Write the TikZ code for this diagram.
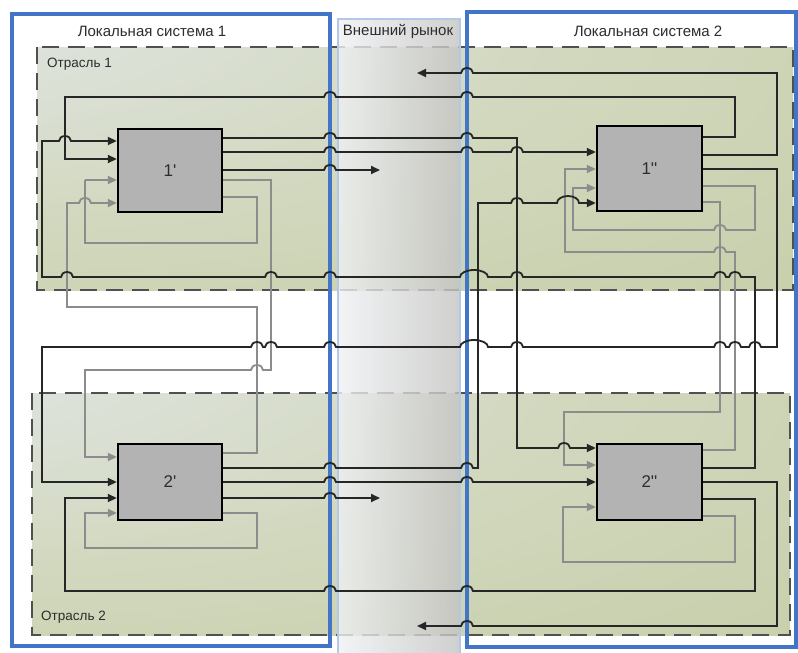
\documentclass[tikz,border=0pt]{standalone}
\usepackage{fontspec}
\setmainfont{Liberation Sans}
\usetikzlibrary{arrows.meta}

\definecolor{lsblue}{RGB}{66,116,200}
\definecolor{mkedge}{RGB}{178,200,232}
\definecolor{indlight}{RGB}{228,233,238}
\definecolor{indmid}{RGB}{210,216,190}
\definecolor{inddark}{RGB}{192,201,158}
\definecolor{mklight}{RGB}{240,241,244}
\definecolor{mkdark}{RGB}{196,196,194}
\definecolor{blockgray}{RGB}{179,179,179}
\definecolor{linegray}{RGB}{140,140,140}
\definecolor{dashgray}{RGB}{80,80,80}
\definecolor{txtgray}{RGB}{45,45,45}

\pgfdeclareradialshading{indshade}{\pgfpoint{-42bp}{40bp}}{%
  color(0bp)=(indlight); color(40bp)=(indmid); color(85bp)=(inddark); color(140bp)=(inddark)}

\newcommand{\jumpR}[2]{-- ({#1-6},#2) arc[start angle=180,end angle=0,x radius=6pt,y radius=5pt]}
\newcommand{\jumpL}[2]{-- ({#1+6},#2) arc[start angle=0,end angle=180,x radius=6pt,y radius=5pt]}
\newcommand{\jumpRw}[3]{-- ({#1-#3},#2) arc[start angle=180,end angle=0,x radius=#3pt,y radius=7pt]}
\newcommand{\jumpLw}[3]{-- ({#1+#3},#2) arc[start angle=0,end angle=180,x radius=#3pt,y radius=7pt]}

\begin{document}
\begin{tikzpicture}[
  x=1pt, y=-1pt,
  blockbox/.style={draw=black, line width=2.4pt, fill=blockgray, inner sep=0pt,
              minimum width=104pt, text=txtgray, font=\fontsize{17}{20}\selectfont},
  industry/.style={draw=dashgray, line width=2.4pt, dash pattern=on 17pt off 9pt,
              shading=indshade},
  market/.style={draw=mkedge, line width=1.8pt, left color=mklight, right color=mkdark,
              fill opacity=0.8},
  system/.style={draw=lsblue, line width=3.2pt},
  systitle/.style={text=txtgray, inner sep=0pt, font=\fontsize{15}{17}\selectfont},
  indtitle/.style={text=txtgray, inner sep=0pt, font=\fontsize{13.5}{15}\selectfont},
  blk/.style={draw=black!85, line width=1.8pt},
  gry/.style={draw=linegray, line width=1.8pt},
  arr/.style={-{Triangle[length=9pt,width=8pt]}}
]
\useasboundingbox (0,0) rectangle (798,653);
\fill[white] (0,0) rectangle (798,653);

\shadedraw[industry] (37,47) rectangle (793,290);
\shadedraw[industry] (32,393) rectangle (790,635);
\shadedraw[market] (338,19) rectangle (460,656);
\draw[system] (12,14) rectangle (330,646);
\draw[system] (467,12) rectangle (796,647);

\node[systitle] (ls1) at (152,31) {Локальная система 1};
\node[systitle] (mkt) at (398,31) {Внешний рынок};
\node[systitle] (ls2) at (648,31) {Локальная система 2};
\node[indtitle, anchor=west] (ind1) at (47,64) {Отрасль 1};
\node[indtitle, anchor=west] (ind2) at (41,617) {Отрасль 2};

\coordinate (mk1) at (380,170);
\coordinate (mk2) at (417,73);
\coordinate (mk3) at (380,498);
\coordinate (mk4) at (417,626);

\node[blockbox, minimum height=83pt] (b1a) at (170,170.5) {1\textquotesingle};
\node[blockbox, minimum height=85pt, minimum width=105pt] (b1b) at (649.5,168.5) {1\textquotesingle\textquotesingle};
\node[blockbox, minimum height=76pt] (b2a) at (170,482) {2\textquotesingle};
\node[blockbox, minimum height=76pt, minimum width=105pt] (b2b) at (649.5,482) {2\textquotesingle\textquotesingle};

\draw[gry] (b1a.east |- 0,197) -- (257,197) -- (257,243) -- (85,243) -- (85,180);
\draw[gry, arr] (85,180) -- (b1a.west |- 0,180);
\draw[gry, arr] (b1a.east |- 0,180) -- (271,180) -- (271,370) \jumpL{257}{370} -- (85,370)
  -- (85,457) -- (b2a.west |- 0,457);
\draw[gry, arr] (b2a.east |- 0,453) -- (257,453) -- (257,307) -- (67,307) -- (67,203)
  \jumpR{85}{203} -- (b1a.west |- 0,203);
\draw[gry, arr] (b2a.east |- 0,513) -- (257,513) -- (257,548) -- (85,548) -- (85,513)
  -- (b2a.west |- 0,513);
\draw[gry, arr] (b1b.east |- 0,186) -- (755,186) -- (755,230) \jumpL{720}{230} -- (573,230)
  -- (573,188) -- (b1b.west |- 0,188);
\draw[gry, arr] (b1b.east |- 0,202) -- (720,202) -- (720,412) -- (564,412) -- (564,465)
  -- (b2b.west |- 0,465);
\draw[gry, arr] (b2b.east |- 0,450) -- (735,450) -- (735,252) \jumpL{720}{252} -- (565,252)
  -- (565,169) -- (b1b.west |- 0,169);
\draw[gry, arr] (b2b.east |- 0,516) -- (735,516) -- (735,562) -- (563,562) -- (563,507)
  -- (b2b.west |- 0,507);

\draw[blk, arr] (b1a.east |- 0,138) \jumpR{330}{138} \jumpR{467}{138} -- (517,138) -- (517,448)
  \jumpR{564}{448} -- (b2b.west |- 0,448);
\draw[blk, arr] (b1a.east |- 0,152) \jumpR{330}{152} \jumpR{467}{152} \jumpR{517}{152}
  -- (b1b.west |- 0,152);
\draw[blk, arr] (b1a.east |- 0,170) \jumpR{330}{170} -- (mk1);
\draw[blk, arr] (b1b.east |- 0,137) -- (735,137) -- (735,97) \jumpL{467}{97} \jumpL{330}{97}
  -- (65,97) -- (65,159) -- (b1a.west |- 0,159);
\draw[blk, arr] (b1b.east |- 0,155) -- (777,155) -- (777,73) \jumpL{467}{73} -- (mk2);
\draw[blk, arr] (b1b.east |- 0,169) -- (777,169) -- (777,347) \jumpL{755}{347} \jumpL{735}{347}
  \jumpL{720}{347} \jumpL{517}{347} \jumpLw{474}{347}{14} \jumpL{330}{347} \jumpL{271}{347}
  \jumpL{257}{347} -- (42,347) -- (42,482) -- (b2a.west |- 0,482);
\draw[blk, arr] (b2b.east |- 0,468) -- (755,468) -- (755,277) \jumpL{735}{277} \jumpL{720}{277}
  \jumpL{517}{277} \jumpLw{474}{277}{14} \jumpL{330}{277} \jumpL{271}{277} \jumpL{67}{277}
  -- (42,277) -- (42,141) \jumpR{65}{141} -- (b1a.west |- 0,141);
\draw[blk, arr] (b2a.east |- 0,468) \jumpR{330}{468} \jumpR{467}{468} -- (478,468) -- (478,203)
  \jumpR{517}{203} \jumpRw{568}{203}{11} -- (b1b.west |- 0,203);
\draw[blk, arr] (b2a.east |- 0,482) \jumpR{330}{482} \jumpR{467}{482} -- (b2b.west |- 0,482);
\draw[blk, arr] (b2a.east |- 0,498) \jumpR{330}{498} -- (mk3);
\draw[blk, arr] (b2b.east |- 0,499) -- (755,499) -- (755,591) \jumpL{467}{591} \jumpL{330}{591}
  -- (65,591) -- (65,498) -- (b2a.west |- 0,498);
\draw[blk, arr] (b2b.east |- 0,482) -- (777,482) -- (777,626) \jumpL{467}{626} -- (mk4);
\end{tikzpicture}
\end{document}
